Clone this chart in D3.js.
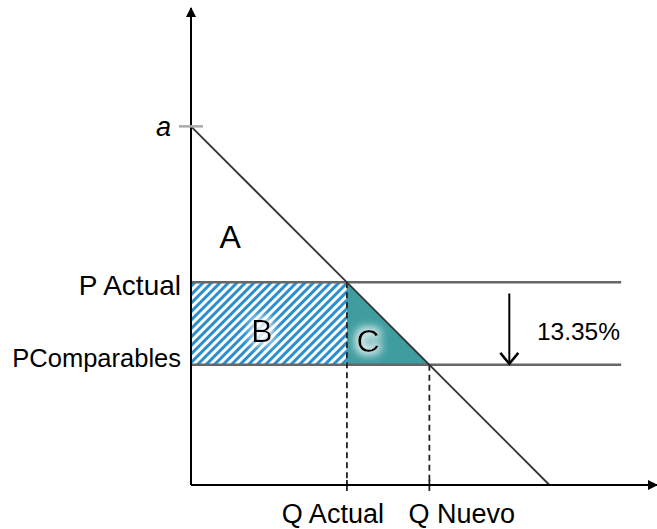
<!DOCTYPE html>
<html>
<head>
<meta charset="utf-8">
<script src="https://cdn.jsdelivr.net/npm/d3@7"></script>
<style>
  body { margin: 0; background: #fff; }
  text { font-family: "Liberation Sans", Arial, sans-serif; fill: #000; }
</style>
</head>
<body>
<svg id="chart" width="657" height="529"></svg>
<script>
const width = 657;
const height = 529;

// price levels on the vertical axis
const priceNames = ["a", "P Actual", "PComparables"];
const priceValues = [100, 56.5, 33.5];

// quantities on the horizontal axis
const qtyNames = ["Q Actual", "Q Nuevo"];
const qtyValues = [43.5, 66.5];

// demand curve end points [q, p]
const demand = [[0, 100], [100, 0]];

const areaNames = ["A", "B", "C"];
const dropLabel = "13.35%";

const x = d3.scaleLinear().domain([0, 130]).range([191, 657]);
const y = d3.scaleLinear().domain([0, 133]).range([485, 8]);

const svg = d3.select("#chart");
const defs = svg.append("defs");

defs.append("pattern")
  .attr("id", "hatch")
  .attr("patternUnits", "userSpaceOnUse")
  .attr("width", 6).attr("height", 6)
  .attr("patternTransform", "rotate(45)")
  .call(p => {
    p.append("rect").attr("width", 6).attr("height", 6).attr("fill", "#fff");
    p.append("rect").attr("width", 3).attr("height", 6).attr("fill", "#2b8fcf");
  });

defs.append("marker")
  .attr("id", "head")
  .attr("viewBox", "0 0 10 10")
  .attr("refX", 9).attr("refY", 5)
  .attr("markerWidth", 10).attr("markerHeight", 10)
  .attr("markerUnits", "userSpaceOnUse")
  .attr("orient", "auto")
  .append("path")
  .attr("d", "M0,0L10,5L0,10Z")
  .attr("fill", "#000");

let glow = defs.append("filter").attr("id", "glow")
  .attr("x", "-60%").attr("y", "-60%").attr("width", "220%").attr("height", "220%");
glow.append("feMorphology").attr("in", "SourceAlpha").attr("operator", "dilate").attr("radius", 3).attr("result", "fat");
glow.append("feFlood").attr("flood-color", "#fff").attr("flood-opacity", 0.85);
glow.append("feComposite").attr("in2", "fat").attr("operator", "in");
glow.append("feGaussianBlur").attr("stdDeviation", 4).attr("result", "halo");
let merge = glow.append("feMerge");
merge.append("feMergeNode").attr("in", "halo");
merge.append("feMergeNode").attr("in", "SourceGraphic");

const pA = priceValues[1], pC = priceValues[2];
const qA = qtyValues[0], qN = qtyValues[1];

// area B: hatched rectangle
svg.append("rect")
  .attr("x", x(0)).attr("y", y(pA))
  .attr("width", x(qA) - x(0)).attr("height", y(pC) - y(pA))
  .attr("fill", "url(#hatch)");

// area C: triangle
svg.append("path")
  .attr("d", d3.line()([[x(qA), y(pA)], [x(qA), y(pC)], [x(qN), y(pC)]]) + "Z")
  .attr("fill", "#3f9d9f");

// horizontal price lines
svg.selectAll(".pline")
  .data(priceValues.slice(1)).enter()
  .append("line")
  .attr("x1", x(0)).attr("x2", x(120))
  .attr("y1", d => y(d)).attr("y2", d => y(d))
  .attr("stroke", "#666").attr("stroke-width", 2.5);

// dashed quantity lines
svg.selectAll(".qline")
  .data(qtyValues).enter()
  .append("line")
  .attr("x1", d => x(d)).attr("x2", d => x(d))
  .attr("y1", (d, i) => y(priceValues[i + 1])).attr("y2", y(0))
  .attr("stroke", "#222").attr("stroke-width", 1.8)
  .attr("stroke-dasharray", "6,4");

svg.selectAll(".qtick")
  .data(qtyValues).enter()
  .append("line")
  .attr("x1", d => x(d)).attr("x2", d => x(d))
  .attr("y1", y(0) - 5).attr("y2", y(0) + 6)
  .attr("stroke", "#222").attr("stroke-width", 1.8);

// demand curve
svg.append("path")
  .attr("d", d3.line().x(d => x(d[0])).y(d => y(d[1]))(demand))
  .attr("fill", "none").attr("stroke", "#333").attr("stroke-width", 1.8);

// axes
svg.append("line")
  .attr("x1", x(0)).attr("y1", y(0)).attr("x2", x(0)).attr("y2", y(133))
  .attr("stroke", "#000").attr("stroke-width", 2).attr("marker-end", "url(#head)");
svg.append("line")
  .attr("x1", x(0)).attr("y1", y(0)).attr("x2", x(130)).attr("y2", y(0))
  .attr("stroke", "#000").attr("stroke-width", 2).attr("marker-end", "url(#head)");

// tick at a
svg.append("line")
  .attr("x1", x(0) - 12).attr("x2", x(0) + 12)
  .attr("y1", y(priceValues[0])).attr("y2", y(priceValues[0]))
  .attr("stroke", "#aaa").attr("stroke-width", 2.5);

// price labels
const pSize = [27, 28, 25.5];
const pDy = [10, 13, 2];
svg.selectAll(".plabel")
  .data(priceNames).enter()
  .append("text")
  .attr("x", (d, i) => i == 0 ? x(0) - 20 : x(0) - 10)
  .attr("y", (d, i) => y(priceValues[i]) + pDy[i])
  .attr("text-anchor", "end")
  .attr("font-size", (d, i) => pSize[i])
  .attr("font-style", (d, i) => i == 0 ? "italic" : "normal")
  .text(d => d);

// quantity labels, pushed apart so they don't collide
const qDx = [37, -21];
svg.selectAll(".qlabel")
  .data(qtyNames).enter()
  .append("text")
  .attr("x", (d, i) => x(qtyValues[i]) + qDx[i])
  .attr("y", y(0) + 38)
  .attr("text-anchor", (d, i) => i == 0 ? "end" : "start")
  .attr("font-size", 27)
  .text(d => d);

// area labels
const areaPos = [[10.9, 66.1], [19.8, 39.9], [49.4, 37.1]];
svg.selectAll(".alabel")
  .data(areaNames).enter()
  .append("text")
  .attr("x", (d, i) => x(areaPos[i][0]))
  .attr("y", (d, i) => y(areaPos[i][1]))
  .attr("text-anchor", "middle")
  .attr("font-size", 32)
  .attr("filter", (d, i) => i > 0 ? "url(#glow)" : null)
  .text(d => d);

// drop arrow
const arrowQ = 88.8;
svg.append("line")
  .attr("x1", x(arrowQ)).attr("x2", x(arrowQ))
  .attr("y1", y(53.4)).attr("y2", y(pC) - 1)
  .attr("stroke", "#000").attr("stroke-width", 2);
svg.append("path")
  .attr("d", `M${x(arrowQ) - 9},${y(pC) - 12}L${x(arrowQ)},${y(pC) - 1}L${x(arrowQ) + 9},${y(pC) - 12}`)
  .attr("fill", "none").attr("stroke", "#000").attr("stroke-width", 2.5);

svg.append("text")
  .attr("x", x(96.5)).attr("y", y(40.4))
  .attr("font-size", 24.5)
  .text(dropLabel);
</script>
</body>
</html>
